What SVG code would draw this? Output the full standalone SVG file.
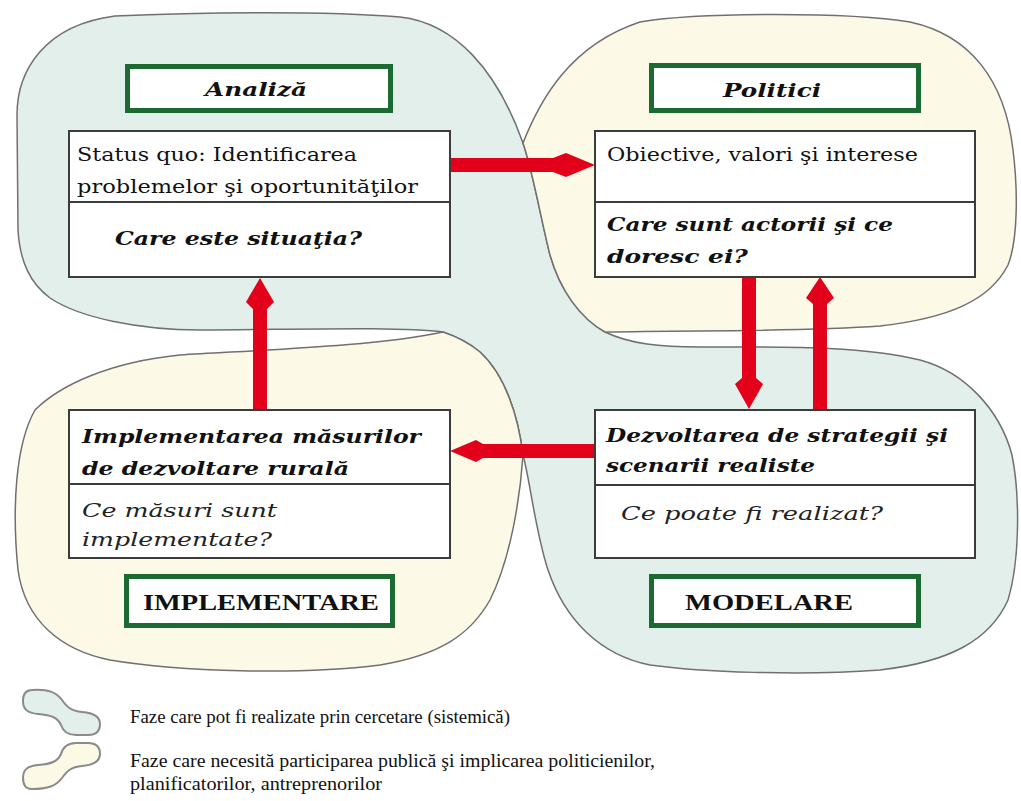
<svg xmlns="http://www.w3.org/2000/svg" width="1021" height="801" viewBox="0 0 1021 801">
<style>
.blue{fill:#e2efea;stroke:#707070;stroke-width:1.5}
.yel{fill:#fcf9e6;stroke:#707070;stroke-width:1.5}
.box{fill:#ffffff;stroke:#3c3c3c;stroke-width:2}
.div{stroke:#3c3c3c;stroke-width:2}
.gbox{fill:#ffffff;stroke:#1b6a32;stroke-width:5}
.t{font-family:"DejaVu Serif","Liberation Serif",serif;font-size:19px;fill:#111}
.bi{font-family:"DejaVu Serif","Liberation Serif",serif;font-size:19px;font-weight:bold;font-style:italic;fill:#111}
.it{font-family:"DejaVu Serif","Liberation Serif",serif;font-size:19px;font-style:italic;fill:#222}
.cap{font-family:"Liberation Serif","DejaVu Serif",serif;font-size:24px;font-weight:bold;fill:#111}
.leg{font-family:"Liberation Serif","DejaVu Serif",serif;font-size:18px;fill:#111}
.arr{fill:#e2001a}
.ico{stroke:#8a8a8a;stroke-width:2}
</style>

<g id="regions">
  <path id="region-research" class="blue" d="M 115,16 C 200,12 330,11 400,17 C 455,23 497,70 523,143 C 533,172 540,215 550,255 C 560,290 580,318 605,332 C 630,344 660,347 700,347 C 780,347 860,345 920,360 C 965,372 1000,410 1012,455 C 1020,495 1020,560 1008,600 C 990,640 950,662 880,670 C 800,676 700,672 650,665 C 600,655 565,620 548,570 C 535,530 530,480 523,455 C 518,415 505,375 480,352 C 468,342 455,336 443,332 C 400,326 280,330 200,330 C 140,330 80,318 50,298 C 30,283 20,262 18,230 L 17,115 C 17,70 45,25 115,16 Z"/>
  <path id="region-politici" class="yel" d="M 523,143 C 540,100 570,45 640,22 C 700,12 850,12 910,22 C 970,35 1005,80 1013,150 C 1018,190 1018,240 1008,265 C 990,300 950,318 880,326 C 800,332 700,330 605,332 C 580,318 560,290 550,255 C 540,215 533,172 523,143 Z"/>
  <path id="region-implementare" class="yel" d="M 443,332 C 455,336 468,342 480,352 C 505,375 518,415 523,455 C 520,500 510,560 490,600 C 470,635 440,655 380,665 C 300,675 180,672 110,660 C 60,650 25,620 18,570 C 12,510 15,445 35,410 C 60,385 110,362 180,355 C 260,350 380,346 443,332 Z"/>
</g>

<g id="connectors">
  <polygon id="arrow-analiza-politici" class="arr" points="450,158 553,158 566,153 595,165 566,177 553,172 450,172"/>
  <polygon id="arrow-implementare-analiza" class="arr" points="253,409 253,309 246,302 260,278 274,302 267,309 267,409"/>
  <polygon id="arrow-politici-modelare" class="arr" points="742,277 756,277 756,378 763,384 749,409 735,384 742,378"/>
  <polygon id="arrow-modelare-politici" class="arr" points="813,409 813,304 806,298 820,277 834,298 827,304 827,409"/>
  <polygon id="arrow-modelare-implementare" class="arr" points="595,444 483,444 476,440 450,451 476,462 483,458 595,458"/>
</g>

<g id="node-analiza-label">
  <rect class="gbox" x="127.5" y="66.5" width="263" height="44"/>
  <text class="bi" x="205" y="96" textLength="102" lengthAdjust="spacingAndGlyphs">Analiză</text>
</g>
<g id="node-analiza">
  <rect class="box" x="69" y="131" width="381" height="146"/>
  <line class="div" x1="69" y1="202" x2="450" y2="202"/>
  <text class="t" x="77" y="161" textLength="280" lengthAdjust="spacingAndGlyphs">Status quo: Identificarea</text>
  <text class="t" x="77" y="193" textLength="341" lengthAdjust="spacingAndGlyphs">problemelor şi oportunităţilor</text>
  <text class="bi" x="115" y="245" textLength="247" lengthAdjust="spacingAndGlyphs">Care este situaţia?</text>
</g>

<g id="node-politici-label">
  <rect class="gbox" x="651.5" y="65.5" width="267" height="45"/>
  <text class="bi" x="723" y="97" textLength="98" lengthAdjust="spacingAndGlyphs">Politici</text>
</g>
<g id="node-politici">
  <rect class="box" x="595" y="131" width="380" height="146"/>
  <line class="div" x1="595" y1="202" x2="975" y2="202"/>
  <text class="t" x="607" y="161" textLength="311" lengthAdjust="spacingAndGlyphs">Obiective, valori şi interese</text>
  <text class="bi" x="607" y="231" textLength="286" lengthAdjust="spacingAndGlyphs">Care sunt actorii şi ce</text>
  <text class="bi" x="607" y="263" textLength="141" lengthAdjust="spacingAndGlyphs">doresc ei?</text>
</g>

<g id="node-implementare">
  <rect class="box" x="69" y="410" width="381" height="148"/>
  <line class="div" x1="69" y1="484" x2="450" y2="484"/>
  <text class="bi" x="82" y="443" textLength="339" lengthAdjust="spacingAndGlyphs">Implementarea măsurilor</text>
  <text class="bi" x="82" y="475" textLength="267" lengthAdjust="spacingAndGlyphs">de dezvoltare rurală</text>
  <text class="it" x="82" y="517" textLength="195" lengthAdjust="spacingAndGlyphs">Ce măsuri sunt</text>
  <text class="it" x="82" y="546" textLength="190" lengthAdjust="spacingAndGlyphs">implementate?</text>
</g>
<g id="node-implementare-label">
  <rect class="gbox" x="126.5" y="576.5" width="266" height="49"/>
  <text class="cap" x="143" y="610" textLength="236" lengthAdjust="spacingAndGlyphs">IMPLEMENTARE</text>
</g>

<g id="node-modelare">
  <rect class="box" x="595" y="410" width="380" height="148"/>
  <line class="div" x1="595" y1="485" x2="975" y2="485"/>
  <text class="bi" x="606" y="442" textLength="342" lengthAdjust="spacingAndGlyphs">Dezvoltarea de strategii şi</text>
  <text class="bi" x="606" y="472" textLength="209" lengthAdjust="spacingAndGlyphs">scenarii realiste</text>
  <text class="it" x="621" y="520" textLength="262" lengthAdjust="spacingAndGlyphs">Ce poate fi realizat?</text>
</g>
<g id="node-modelare-label">
  <rect class="gbox" x="651.5" y="576.5" width="267" height="49"/>
  <text class="cap" x="685" y="610" textLength="168" lengthAdjust="spacingAndGlyphs">MODELARE</text>
</g>

<g id="legend">
  <path class="ico" fill="#e2efea" d="M 32,690 C 48,689 56,692 62,700 C 67,707 71,711 82,712 C 95,713 100,717 100,724 C 100,731 96,735 88,735 L 76,735 C 67,735 63,731 61,725 C 58,718 52,715 38,714 C 27,713 23,709 23,701 C 23,694 26,690 32,690 Z"/>
  <path class="ico" fill="#fcf9e6" d="M 76,743 L 88,743 C 96,743 100,747 100,754 C 100,761 95,765 82,766 C 71,767 67,771 62,778 C 56,786 48,789 32,789 C 26,789 23,785 23,778 C 23,770 27,766 38,765 C 52,764 58,761 61,754 C 63,747 67,743 76,743 Z"/>
  <text class="leg" x="130" y="723" textLength="380" lengthAdjust="spacingAndGlyphs">Faze care pot fi realizate prin cercetare (sistemică)</text>
  <text class="leg" x="130" y="767" textLength="525" lengthAdjust="spacingAndGlyphs">Faze care necesită participarea publică şi implicarea politicienilor,</text>
  <text class="leg" x="130" y="790" textLength="252" lengthAdjust="spacingAndGlyphs">planificatorilor, antreprenorilor</text>
</g>
</svg>
